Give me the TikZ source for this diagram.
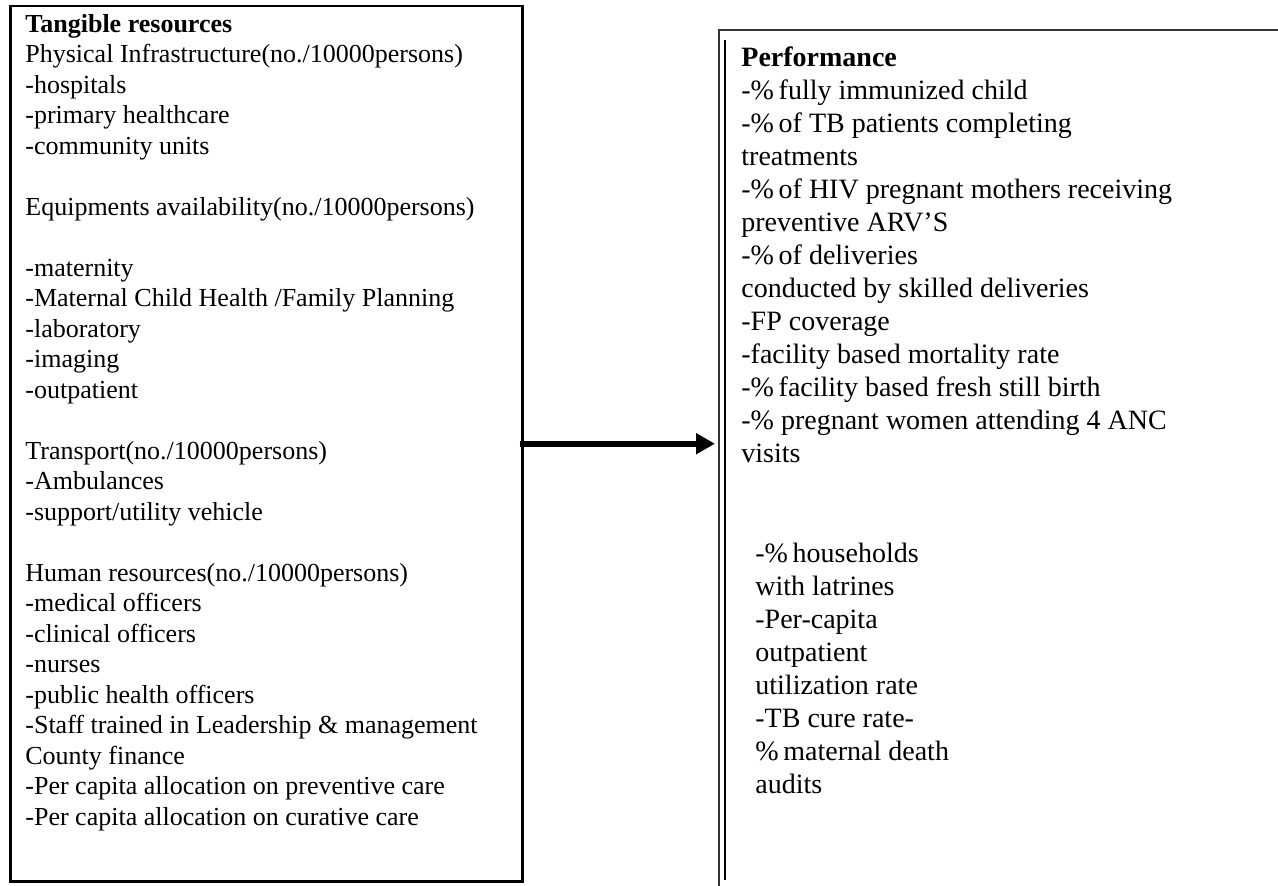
\documentclass[tikz,border=0pt]{standalone}
\usepackage{fontspec}
\setmainfont{Liberation Serif}
\usetikzlibrary{arrows.meta}
\begin{document}
\begin{tikzpicture}[x=0.5pt,y=-0.5pt,
  boxtext/.style={anchor=north west, inner sep=0pt, align=left, font=\fontsize{13}{15.25}\selectfont},
  perfstyle/.style={anchor=north west, inner sep=0pt, align=left, font=\fontsize{14}{16.5}\selectfont},
  frame/.style={draw, line width=1.25pt, inner sep=0pt, anchor=north west},
  outerline/.style={draw=black!80, line width=0.8pt},
  innerline/.style={draw=black, line width=1pt},
  bigarrow/.style={line width=3pt, -{Triangle[length=9.5pt,width=10pt]}}]
\useasboundingbox (0,0) rectangle (1278,886);
% left box
\node[frame, minimum width=256pt, minimum height=437.5pt] (res) at (9,5) {};
\node[boxtext] (restext) at (25,14) {\textbf{Tangible resources}\\
Physical Infrastructure(no./10000persons)\\
-hospitals\\
-primary healthcare\\
-community units\\
\mbox{}\\
Equipments availability(no./10000persons)\\
\mbox{}\\
-maternity\\
-Maternal Child Health /Family Planning\\
-laboratory\\
-imaging\\
-outpatient\\
\mbox{}\\
Transport(no./10000persons)\\
-Ambulances\\
-support/utility vehicle\\
\mbox{}\\
Human resources(no./10000persons)\\
-medical officers\\
-clinical officers\\
-nurses\\
-public health officers\\
-Staff trained in Leadership \& management\\
County finance\\
-Per capita allocation on preventive care\\
-Per capita allocation on curative care};
% right box (open at right and bottom)
\coordinate (perfNW) at (719,30);
\coordinate (perfIn) at (725,40);
\draw[outerline] (719,886) -- (perfNW) -- (1278,30);
\draw[innerline] (perfIn) -- (725,880);
\node[perfstyle] (perftext) at (741,46) {\textbf{Performance}\\
-\%\,fully immunized child\\
-\%\,of TB patients completing\\
treatments\\
-\%\,of HIV pregnant mothers receiving\\
preventive ARV’S\\
-\%\,of deliveries\\
conducted by skilled deliveries\\
-FP coverage\\
-facility based mortality rate\\
-\%\,facility based fresh still birth\\
-\% pregnant women attending 4 ANC\\
visits};
\node[perfstyle] (perftext2) at (755,543) {-\%\,households\\
with latrines\\
-Per-capita\\
outpatient\\
utilization rate\\
-TB cure rate-\\
\%\,maternal death\\
audits};
% arrow
\draw[bigarrow, shorten <=-2pt, shorten >=2pt] (res.east) -- (res.east -| perfNW);
\end{tikzpicture}
\end{document}
